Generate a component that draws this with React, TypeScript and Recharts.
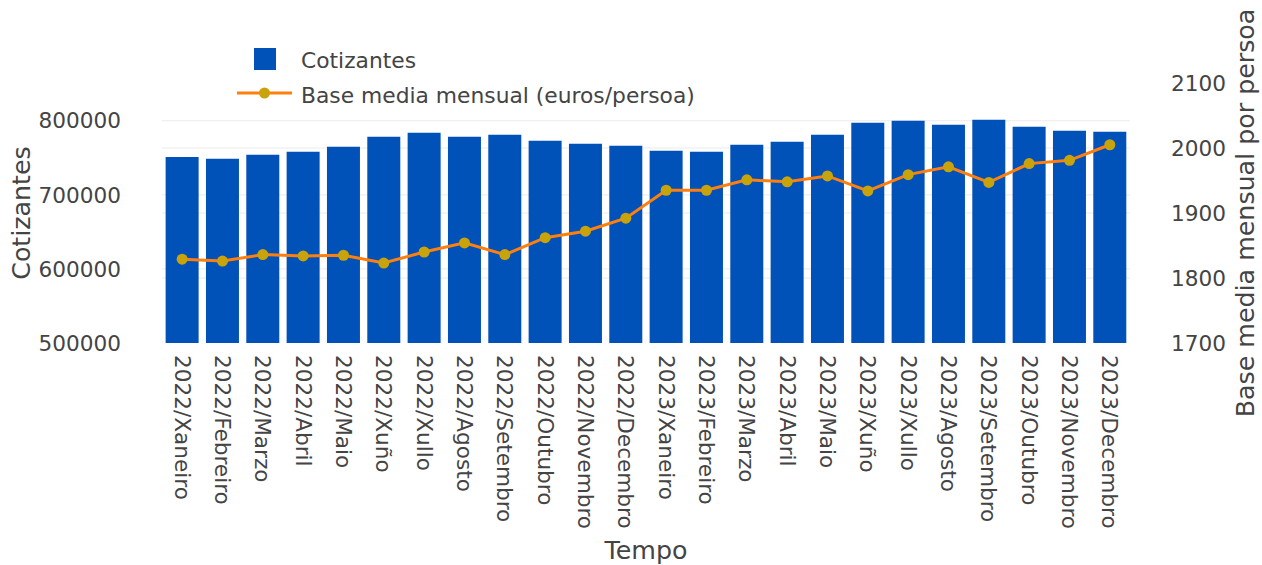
import { Bar, CartesianGrid, ComposedChart, Label, Legend, Line, XAxis, YAxis } from "recharts";

const months = [
  "2022/Xaneiro", "2022/Febreiro", "2022/Marzo", "2022/Abril", "2022/Maio", "2022/Xuño",
  "2022/Xullo", "2022/Agosto", "2022/Setembro", "2022/Outubro", "2022/Novembro", "2022/Decembro",
  "2023/Xaneiro", "2023/Febreiro", "2023/Marzo", "2023/Abril", "2023/Maio", "2023/Xuño",
  "2023/Xullo", "2023/Agosto", "2023/Setembro", "2023/Outubro", "2023/Novembro", "2023/Decembro",
];

const cotizantes = [
  751000, 748600, 754000, 758100, 764900, 778400, 783800, 778400, 781100, 773000, 768900, 766200,
  759500, 758100, 767600, 771600, 781100, 797300, 800000, 794600, 801400, 791900, 786500, 785100,
];

const baseMedia = [
  1829, 1826, 1836, 1834, 1835, 1823, 1840, 1854, 1836, 1862, 1872, 1892,
  1935, 1935, 1951, 1948, 1957, 1934, 1959, 1971, 1947, 1976, 1981, 2005,
];

const leftTicks = [500000, 600000, 700000, 800000];
const rightTicks = [1700, 1800, 1900, 2000, 2100];

const TEXT = "#444";
const BLUE = "#0052b9";
const ORANGE = "#ff7f0e";
const GOLD = "#c9a30b";
const GRID = "#ebebeb";
const TICK_SIZE = 21.6;
const TITLE_SIZE = 25.3;

const rows = months.map((m, i) => ({ month: m, cotizantes: cotizantes[i], base: baseMedia[i] }));

function MonthTick({ x, y, payload }: any) {
  return (
    <text
      transform={`translate(${x},${y + 12}) rotate(90)`}
      textAnchor="start"
      dominantBaseline="central"
      fontSize={TICK_SIZE}
      fill={TEXT}
    >
      {payload.value}
    </text>
  );
}

function LegendBox() {
  return (
    <svg width={480} height={70}>
      <rect x={24} y={8} width={22} height={22} fill={BLUE} />
      <text x={71} y={20} dominantBaseline="central" fontSize={21.8} fill={TEXT}>
        Cotizantes
      </text>
      <line x1={7} x2={62} y1={53} y2={53} stroke={ORANGE} strokeWidth={3} />
      <circle cx={34.5} cy={53} r={5.5} fill={GOLD} />
      <text x={71} y={55} dominantBaseline="central" fontSize={21.8} fill={TEXT}>
        Base media mensual (euros/persoa)
      </text>
    </svg>
  );
}

export default function App() {
  return (
    <div style={{ position: "absolute", left: 0, top: 0, fontFamily: "'DejaVu Sans', Verdana, sans-serif" }}>
      <ComposedChart
        width={1262}
        height={565}
        data={rows}
        margin={{ top: 83, right: 0, bottom: 0, left: 0 }}
        barCategoryGap="9%"
      >
        <CartesianGrid yAxisId="left" vertical={false} stroke={GRID} horizontalValues={[600000, 700000, 800000]} />
        <CartesianGrid yAxisId="right" vertical={false} stroke={GRID} horizontalValues={[1800, 1900, 2000]} />
        <XAxis
          dataKey="month"
          interval={0}
          height={222}
          tick={<MonthTick />}
          tickSize={0}
          tickMargin={0}
          axisLine={false}
          tickLine={false}
        >
          <Label
            content={({ viewBox }: any) => (
              <text x={viewBox.x + viewBox.width / 2} y={559} textAnchor="middle" fontSize={TITLE_SIZE} fill={TEXT}>
                Tempo
              </text>
            )}
          />
        </XAxis>
        <YAxis
          yAxisId="left"
          orientation="left"
          width={162}
          domain={[500000, 851000]}
          ticks={leftTicks}
          allowDataOverflow
          tick={{ fontSize: TICK_SIZE, fill: TEXT }}
          tickSize={0}
          tickMargin={41}
          axisLine={false}
          tickLine={false}
        >
          <Label
            content={({ viewBox }: any) => (
              <text
                transform={`translate(21,${viewBox.y + viewBox.height / 2}) rotate(-90)`}
                textAnchor="middle"
                dominantBaseline="central"
                fontSize={TITLE_SIZE}
                fill={TEXT}
              >
                Cotizantes
              </text>
            )}
          />
        </YAxis>
        <YAxis
          yAxisId="right"
          orientation="right"
          width={132}
          domain={[1700, 2100]}
          ticks={rightTicks}
          allowDataOverflow
          tick={{ fontSize: TICK_SIZE, fill: TEXT }}
          tickSize={0}
          tickMargin={41}
          axisLine={false}
          tickLine={false}
        >
          <Label
            content={({ viewBox }: any) => (
              <text
                transform={`translate(1245,${viewBox.y + viewBox.height / 2}) rotate(-90)`}
                textAnchor="middle"
                dominantBaseline="central"
                fontSize={TITLE_SIZE}
                fill={TEXT}
              >
                Base media mensual por persoa
              </text>
            )}
          />
        </YAxis>
        <Legend
          layout="vertical"
          align="center"
          verticalAlign="middle"
          wrapperStyle={{ left: 230, top: 40, width: 480 }}
          content={() => <LegendBox />}
        />
        <Bar yAxisId="left" dataKey="cotizantes" name="Cotizantes" fill={BLUE} isAnimationActive={false} />
        <Line
          yAxisId="right"
          dataKey="base"
          name="Base media mensual (euros/persoa)"
          type="linear"
          stroke={ORANGE}
          strokeWidth={3}
          dot={{ r: 5.5, fill: GOLD, stroke: GOLD, strokeWidth: 0 }}
          activeDot={false}
          isAnimationActive={false}
        />
      </ComposedChart>
    </div>
  );
}
